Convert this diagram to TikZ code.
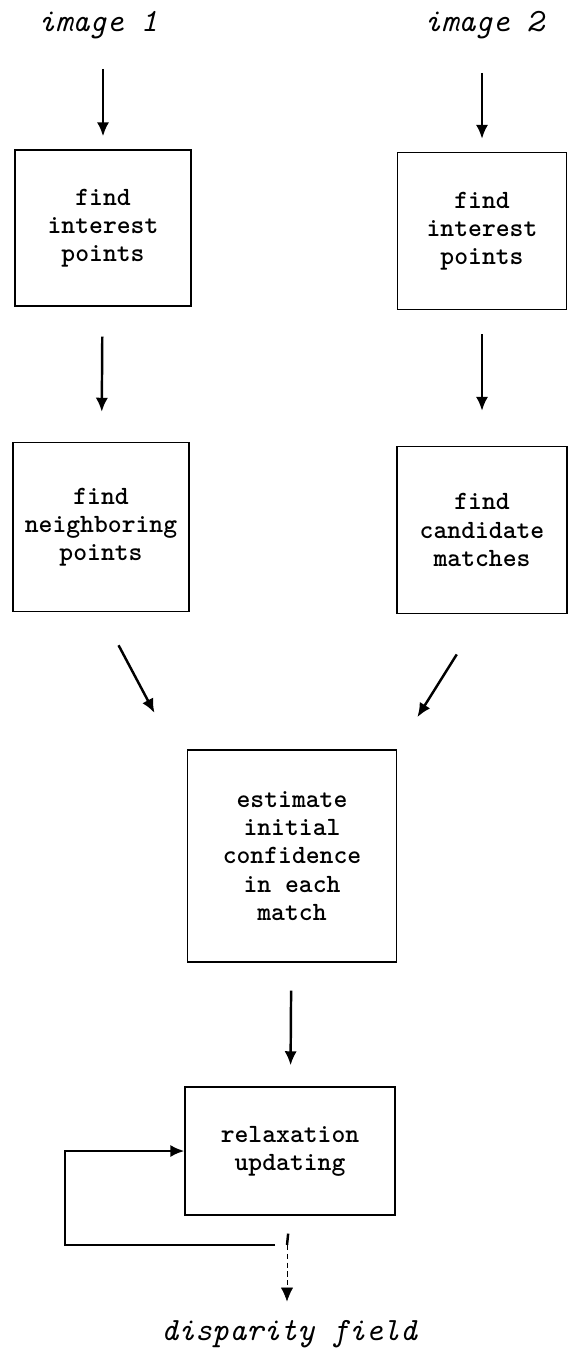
\documentclass[tikz,border=0pt]{standalone}
\usetikzlibrary{arrows.meta}
\begin{document}
\begin{tikzpicture}[x=0.02cm, y=-0.02cm,
    stage/.style ={rectangle, draw, thick, align=center, inner sep=0pt,
      font=\ttfamily\bfseries\fontsize{15}{16}\selectfont},
    imgtext/.style ={inner sep=0pt, anchor=base,
      font=\ttfamily\itshape\fontsize{18.5}{20}\selectfont},
    flow/.style ={line width=1.4pt, -{Latex[length=8pt,width=7pt]}}]
   \useasboundingbox (0,0) rectangle (570,1365);
   \node[imgtext] (img1) at (98,32) {image 1};
   \node[imgtext] (img2) at (484,32) {image 2};
   \node[stage, minimum width=3.52cm, minimum height=3.12cm] (intL) at (103,228) {find\\interest\\points};
   \node[stage, minimum width=3.38cm, minimum height=3.14cm] (intR) at (482,231) {find\\interest\\points};
   \node[stage, minimum width=3.52cm, minimum height=3.38cm] (neiL) at (101,527) {find\\neighboring\\points};
   \node[stage, minimum width=3.40cm, minimum height=3.34cm] (canR) at (482,530) {find\\candidate\\matches};
   \node[stage, minimum width=4.18cm, minimum height=4.24cm] (est) at (292,856) {estimate\\initial\\confidence\\in each\\match};
   \node[stage, minimum width=4.20cm, minimum height=2.56cm] (relax) at (290,1151) {relaxation\\updating};
   \node[imgtext] (disp) at (289,1340) {disparity field};
   \coordinate (split) at (287,1245);
   \draw[flow, shorten <=0.58cm, shorten >=0.26cm] (img1.south -| intL.north) -- (intL.north);
   \draw[flow, shorten <=0.66cm, shorten >=0.26cm] (img2.south -| intR.north) -- (intR.north);
   \draw[flow, shorten <=0.6cm, shorten >=0.6cm] (intL) -- (neiL);
   \draw[flow, shorten <=0.48cm, shorten >=0.7cm] (intR) -- (canR);
   \draw[flow, shorten <=0.75cm, shorten >=1.38cm] (neiL.south) -- (est.142);
   \draw[flow, shorten <=0.95cm, shorten >=0.76cm] (canR.south) -- (est.north east);
   \draw[flow, shorten <=0.56cm, shorten >=0.42cm] (est) -- (relax);
   \draw[line width=1.4pt, shorten <=0.36cm] (relax.south) -- (split);
   \draw[flow, thin, densely dashed, shorten >=0.36cm] (split) -- (disp.north -| split);
   \draw[flow, shorten <=0.24cm] (split) -- (65,1245) |- (relax.west);
\end{tikzpicture}
\end{document}
